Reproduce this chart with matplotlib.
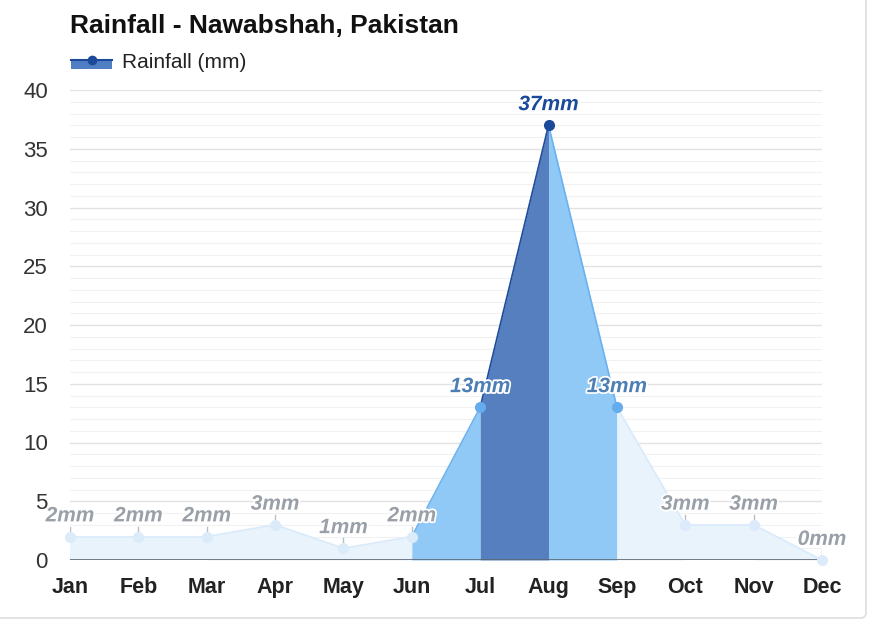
import matplotlib.pyplot as plt
from matplotlib.patches import Rectangle, Arc
from matplotlib.lines import Line2D
from matplotlib.legend_handler import HandlerBase
from matplotlib.transforms import IdentityTransform
import matplotlib.patheffects as pe
import numpy as np

plt.rcParams['font.family'] = ['Liberation Sans', 'DejaVu Sans']

months = ['Jan', 'Feb', 'Mar', 'Apr', 'May', 'Jun',
          'Jul', 'Aug', 'Sep', 'Oct', 'Nov', 'Dec']
rain = [2, 2, 2, 3, 1, 2, 13, 37, 13, 3, 3, 0]
labels = [f"{v}mm" for v in rain]

# intensity level per month: 0 light, 1 mid, 2 dark
level = [0, 0, 0, 0, 0, 0, 1, 2, 1, 0, 0, 0]

FILL = ['#e8f3fc', '#90c8f6', '#557fbe']
EDGE = ['#d9eafa', '#6bb2f0', '#1d4c9c']
DOT = ['#dcebf9', '#64acee', '#1c4a9a']
TXT = ['#9aa0a8', '#4d7fb5', '#1c4a9a']

fig = plt.figure(figsize=(8.69, 6.23), dpi=100)
W, H = 869, 623

# card border, only right and bottom edges in view, rounded corner
R = 5
fig.add_artist(Line2D([866 / W, 866 / W], [(5 + R) / H, 1], color='#dedede',
                      linewidth=1.2, transform=fig.transFigure))
fig.add_artist(Line2D([0, (866 - R) / W], [5 / H, 5 / H], color='#dedede',
                      linewidth=1.2, transform=fig.transFigure))
fig.add_artist(Arc((866 - R, 5 + R), 2 * R, 2 * R, theta1=270, theta2=360,
                   color='#dedede', linewidth=1.2,
                   transform=IdentityTransform()))

ax = fig.add_axes([70 / W, (H - 560) / H, (822 - 70) / W, (560 - 90) / H])
ax.set_facecolor('none')
ax.set_xlim(0, 11)
ax.set_ylim(0, 40)

# grid
for y in np.arange(0, 41, 1):
    if y % 5 == 0:
        ax.axhline(y, color='#e2e2e2', linewidth=1.0, zorder=0)
    else:
        ax.axhline(y, color='#f1f1f1', linewidth=0.8, zorder=0)

x = np.arange(len(months))
for i in range(len(months) - 1):
    lv = level[i + 1]
    ax.fill_between(x[i:i + 2], rain[i:i + 2], 0, color=FILL[lv],
                    linewidth=0, zorder=2)
    ax.plot(x[i:i + 2], rain[i:i + 2], color=EDGE[lv], linewidth=1.2,
            zorder=3, solid_capstyle='round')

for i, v in enumerate(rain):
    lv = level[i]
    ax.plot(x[i], v, 'o', markersize=7, color=DOT[lv], zorder=5,
            clip_on=False)
    if lv == 0:
        ax.plot([x[i], x[i]], [v + 0.25, v + 0.85], color='#b8bec6',
                linewidth=1.0, zorder=4)
    t = ax.annotate(labels[i], xy=(x[i], v), xytext=(0, 8),
                    textcoords='offset points', ha='center', va='bottom',
                    fontsize=15, fontweight='bold', fontstyle='italic',
                    color=TXT[lv], zorder=6)
    t.set_path_effects([pe.withStroke(linewidth=2.5, foreground='white')])

ax.axhline(0, color='#5c6672', linewidth=1.2, zorder=4)

for s in ax.spines.values():
    s.set_visible(False)
ax.set_xticks(x)
ax.set_xticklabels(months, fontsize=15.5, fontweight='bold', color='#222222')
ax.set_yticks(np.arange(0, 41, 5))
ax.set_yticklabels([str(v) for v in range(0, 41, 5)], fontsize=16,
                   color='#333333')
ax.tick_params(axis='both', length=0)
ax.tick_params(axis='x', pad=12)
ax.tick_params(axis='y', pad=16)

fig.text(70 / W, 1 - 26 / H, 'Rainfall - Nawabshah, Pakistan', fontsize=19,
         fontweight='bold', color='#111111', va='center', ha='left')


class AreaHandler(HandlerBase):
    def create_artists(self, legend, orig, xd, yd, width, height, fontsize,
                       trans):
        r = Rectangle((xd, yd - height * 0.05), width, height * 0.6,
                      facecolor='#4f7ec2', edgecolor='none', transform=trans)
        ln = Line2D([xd, xd + width], [yd + height * 0.55] * 2,
                    color='#1c4a9a', linewidth=1.5, transform=trans)
        dot = Line2D([xd + width / 2], [yd + height * 0.55], marker='o',
                     markersize=6, color='#1c4a9a', transform=trans)
        return [r, ln, dot]


leg = fig.legend([object()], ['Rainfall (mm)'],
                 handler_map={object: AreaHandler()},
                 loc='center left', bbox_to_anchor=(52 / W, 1 - 63 / H),
                 frameon=False, fontsize=15, handlelength=2.0,
                 handletextpad=0.45)
for txt in leg.get_texts():
    txt.set_color('#222222')

fig.savefig('out.png', dpi=100)
